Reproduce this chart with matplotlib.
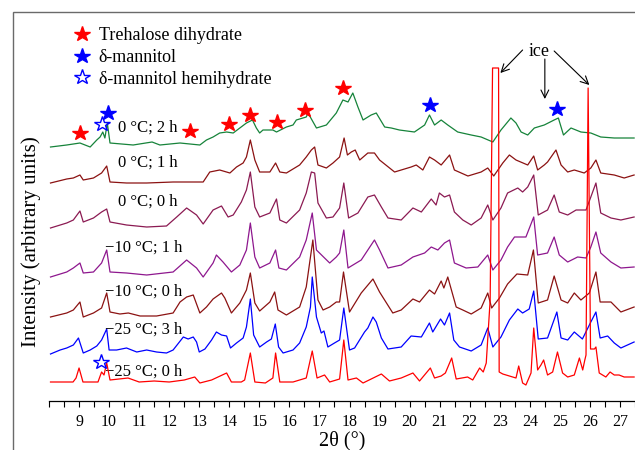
import numpy as np
import matplotlib
matplotlib.use('Agg')
import matplotlib.pyplot as plt
from matplotlib.lines import Line2D
from matplotlib.patches import Rectangle

plt.rcParams['font.family'] = ['Liberation Serif', 'DejaVu Serif']

# stacked XRD patterns, 2theta (deg) and intensity (arbitrary, offset already applied)
tt_m25_0h = [8.05, 8.80, 8.90, 9.00, 9.13, 9.63, 9.75, 9.83, 9.92, 10.03, 10.63, 11.0, 11.5, 12.0, 12.5,
             12.85, 13.02, 13.41, 13.91, 14.07, 14.4, 14.51, 14.70, 14.85, 15.2, 15.45, 15.54, 15.68,
             16.12, 16.56, 16.76, 16.92, 17.17, 17.34, 17.67, 17.81, 17.95, 18.23, 18.45, 19.06, 19.33,
             19.72, 20.11, 20.33, 20.69, 20.83, 21.05, 21.19, 21.40, 21.55, 21.93, 22.10, 22.33, 22.45,
             22.55, 22.68, 22.76, 22.96, 22.98, 23.10, 23.54, 23.63, 23.76, 23.87, 24.04, 24.13, 24.26,
             24.37, 24.46, 24.59, 24.76, 24.92, 25.09, 25.26, 25.48, 25.65, 25.76, 25.83, 25.87, 25.94,
             26.02, 26.15, 26.20, 26.31, 26.53, 26.67, 26.81, 26.97, 27.14, 27.47]
i_m25_0h = [18, 18, 22, 32, 18, 18, 28, 25, 37, 20, 22, 18, 19, 18, 20,
            23, 17, 20, 27, 18, 18, 20, 47, 18, 17, 22, 47, 18,
            18, 22, 49, 22, 25, 18, 21, 60, 20, 22, 17, 26, 19,
            22, 27, 19, 32, 22, 24, 27, 42, 21, 23, 20, 32, 28,
            37, 100, 332, 332, 28, 26, 22, 34, 17, 15, 27, 72, 30,
            35, 40, 25, 28, 48, 27, 23, 25, 42, 30, 40, 45, 312,
            51, 51, 53, 27, 23, 28, 25, 25, 23, 23]

tt_m25_3h = [8.05, 8.37, 8.59, 8.81, 8.98, 9.14, 9.37, 9.59, 9.75, 9.92, 10.0, 10.25, 10.58, 10.92, 11.25,
             11.58, 11.91, 12.13, 12.47, 12.63, 12.80, 12.91, 13.0, 13.19, 13.41, 13.57, 13.74, 13.91,
             14.04, 14.24, 14.46, 14.57, 14.70, 14.81, 15.01, 15.24, 15.40, 15.53, 15.64, 15.79, 16.12,
             16.34, 16.56, 16.70, 16.76, 16.90, 17.06, 17.15, 17.28, 17.50, 17.67, 17.81, 18.0, 18.17,
             18.50, 18.61, 18.78, 18.89, 19.06, 19.28, 19.72, 20.05, 20.39, 20.66, 20.77, 21.03, 21.16,
             21.33, 21.47, 21.66, 22.05, 22.38, 22.60, 22.77, 23.04, 23.32, 23.60, 23.76, 23.98, 24.13,
             24.28, 24.59, 24.90, 25.04, 25.26, 25.48, 25.75, 26.03, 26.20, 26.34, 26.59, 26.81, 27.03,
             27.25, 27.47]
i_m25_3h = [46, 50, 52, 55, 62, 47, 50, 54, 60, 71, 50, 50, 52, 48, 50,
            48, 47, 50, 63, 61, 63, 58, 48, 51, 60, 68, 65, 64,
            52, 57, 62, 73, 101, 65, 53, 58, 61, 76, 53, 47, 50,
            57, 73, 93, 123, 83, 67, 69, 53, 57, 60, 92, 50, 52,
            68, 72, 83, 78, 62, 51, 53, 64, 63, 77, 68, 81, 75,
            87, 60, 53, 49, 55, 72, 53, 63, 80, 91, 87, 91, 109,
            61, 62, 88, 62, 60, 68, 61, 78, 88, 62, 64, 57, 52,
            55, 58]

tt_m10_0h = [8.05, 8.59, 8.81, 9.03, 9.14, 9.48, 9.75, 9.92, 10.03, 10.36, 10.64, 11.03, 11.58, 12.13, 12.36,
             12.58, 12.80, 13.02, 13.24, 13.46, 13.74, 13.85, 14.07, 14.35, 14.57, 14.70, 14.85, 15.01,
             15.35, 15.51, 15.62, 15.90, 16.34, 16.56, 16.78, 16.95, 17.12, 17.34, 17.56, 17.67, 17.80,
             18.0, 18.39, 18.78, 19.0, 19.44, 19.72, 20.11, 20.33, 20.66, 20.83, 21.05, 21.14, 21.27,
             21.55, 21.77, 22.05, 22.38, 22.60, 22.73, 22.99, 23.26, 23.57, 23.93, 24.12, 24.28, 24.59,
             24.81, 25.04, 25.26, 25.48, 25.70, 25.98, 26.20, 26.34, 26.70, 27.03, 27.47]
i_m10_0h = [83, 87, 90, 98, 83, 87, 92, 107, 88, 86, 87, 84, 84, 87, 98,
            103, 105, 87, 93, 101, 107, 102, 87, 97, 110, 127, 97, 89,
            98, 108, 90, 85, 93, 113, 160, 100, 90, 93, 98, 98, 128,
            88, 107, 121, 108, 87, 90, 101, 98, 110, 106, 119, 112, 123,
            93, 90, 86, 92, 107, 92, 102, 116, 126, 125, 150, 97, 100,
            124, 100, 97, 107, 100, 107, 128, 98, 98, 88, 93]

tt_m10_1h = [8.05, 8.59, 8.81, 9.03, 9.14, 9.48, 9.75, 9.92, 10.03, 10.58, 11.25, 12.13, 12.58, 12.91, 13.13,
             13.46, 13.57, 13.79, 14.07, 14.35, 14.57, 14.70, 14.85, 15.01, 15.35, 15.54, 15.65, 15.90,
             16.34, 16.56, 16.76, 16.90, 17.17, 17.34, 17.56, 17.67, 17.81, 17.95, 18.39, 18.61, 18.83,
             19.0, 19.28, 19.72, 20.11, 20.50, 20.72, 20.94, 21.16, 21.33, 21.49, 21.88, 22.27, 22.60,
             22.77, 23.04, 23.26, 23.49, 23.87, 24.13, 24.26, 24.59, 24.81, 24.98, 25.26, 25.59, 25.87,
             26.03, 26.20, 26.36, 26.70, 27.03, 27.47]
i_m10_1h = [123, 128, 132, 137, 127, 128, 137, 150, 128, 127, 125, 128, 140, 132, 123,
            137, 145, 138, 128, 135, 150, 177, 143, 132, 137, 150, 132, 130,
            143, 160, 187, 150, 142, 137, 143, 147, 170, 132, 140, 150, 160,
            150, 132, 135, 143, 147, 153, 150, 157, 160, 137, 132, 133, 145,
            130, 140, 153, 163, 163, 183, 145, 147, 163, 145, 138, 143, 142,
            153, 168, 147, 138, 132, 133]

tt_0_0h = [8.05, 8.59, 8.81, 9.03, 9.14, 9.48, 9.75, 9.92, 10.03, 10.58, 11.25, 11.91, 12.25, 12.58, 12.91,
           13.13, 13.46, 13.74, 13.96, 14.13, 14.40, 14.57, 14.70, 14.85, 15.01, 15.35, 15.57, 15.68,
           15.90, 16.34, 16.56, 16.73, 16.84, 16.95, 17.23, 17.45, 17.67, 17.81, 17.97, 18.28, 18.61,
           18.83, 19.06, 19.28, 19.72, 20.11, 20.39, 20.72, 20.88, 20.99, 21.16, 21.33, 21.49, 21.77,
           22.05, 22.38, 22.60, 22.77, 23.04, 23.26, 23.60, 23.76, 23.93, 24.13, 24.28, 24.59, 24.81,
           24.98, 25.26, 25.54, 25.87, 26.03, 26.20, 26.36, 26.70, 27.03, 27.47]
i_0_0h = [172, 177, 180, 189, 178, 182, 188, 191, 178, 175, 173, 174, 183, 192, 185,
          176, 190, 194, 183, 185, 198, 210, 228, 193, 183, 187, 201, 180,
          177, 190, 207, 228, 227, 197, 182, 183, 192, 217, 182, 187, 203,
          205, 193, 182, 180, 192, 188, 201, 195, 207, 203, 205, 188, 180,
          175, 182, 195, 180, 192, 207, 212, 208, 213, 225, 185, 190, 205,
          188, 185, 190, 190, 203, 217, 187, 182, 180, 183]

tt_0_1h = [8.05, 8.59, 8.81, 9.03, 9.14, 9.48, 9.75, 9.92, 10.03, 10.58, 11.25, 12.13, 13.13, 13.35, 13.68,
           14.02, 14.24, 14.46, 14.57, 14.70, 14.85, 15.01, 15.35, 15.54, 15.68, 15.90, 16.34, 16.56,
           16.73, 16.84, 16.95, 17.23, 17.45, 17.67, 17.82, 17.93, 18.06, 18.19, 18.34, 18.61, 18.83,
           19.0, 19.50, 20.05, 20.22, 20.44, 20.66, 20.83, 21.05, 21.33, 21.49, 21.94, 22.38, 22.60,
           22.80, 23.10, 23.32, 23.54, 23.93, 24.13, 24.26, 24.48, 24.59, 24.87, 25.04, 25.26, 25.48,
           25.81, 26.03, 26.20, 26.36, 26.81, 27.14, 27.47]
i_0_1h = [217, 221, 222, 225, 220, 222, 227, 234, 218, 217, 217, 218, 218, 228, 230,
          227, 233, 237, 243, 260, 240, 228, 228, 237, 228, 227, 235, 243,
          250, 253, 235, 232, 237, 243, 262, 245, 248, 250, 240, 247, 247,
          240, 228, 233, 235, 230, 243, 240, 235, 245, 230, 224, 228, 232,
          224, 237, 245, 240, 235, 244, 230, 235, 238, 250, 235, 228, 230,
          227, 232, 240, 227, 225, 222, 225]

tt_0_2h = [8.05, 8.59, 9.03, 9.37, 9.59, 9.70, 9.79, 9.86, 9.94, 10.03, 10.80, 11.43, 11.69, 12.36, 13.02,
           13.24, 13.46, 13.68, 13.91, 14.13, 14.57, 14.77, 14.90, 15.01, 15.12, 15.45, 15.57, 15.90,
           16.12, 16.23, 16.56, 16.62, 16.90, 17.23, 17.56, 17.78, 17.95, 18.11, 18.28, 18.45, 18.72,
           18.89, 19.17, 19.39, 19.66, 20.16, 20.50, 20.66, 20.83, 21.05, 21.27, 21.60, 22.05, 22.38,
           22.77, 23.04, 23.37, 23.54, 23.71, 23.93, 24.15, 24.48, 24.81, 24.95, 25.12, 25.37, 25.70,
           26.03, 26.36, 26.81, 27.47]
i_0_2h = [253, 255, 257, 253, 260, 263, 268, 262, 277, 257, 255, 258, 255, 257, 255,
          260, 263, 267, 268, 267, 277, 280, 272, 267, 270, 270, 268, 273,
          275, 280, 283, 287, 272, 275, 287, 300, 298, 307, 293, 280, 285,
          287, 273, 272, 270, 268, 275, 285, 275, 280, 275, 268, 265, 263,
          258, 270, 282, 277, 268, 265, 272, 275, 280, 282, 265, 272, 268,
          267, 263, 262, 262]

traces = [
    (tt_0_2h, i_0_2h, '#16833a', '0 °C; 2 h', 10.31, 272),
    (tt_0_1h, i_0_1h, '#8b1212', '0 °C; 1 h', 10.31, 237),
    (tt_0_0h, i_0_0h, '#8b1a52', '0 °C; 0 h', 10.31, 198),
    (tt_m10_1h, i_m10_1h, '#8e178e', '\u221210 °C; 1 h', 9.86, 152),
    (tt_m10_0h, i_m10_0h, '#8b1212', '\u221210 °C; 0 h', 9.86, 108),
    (tt_m25_3h, i_m25_3h, '#0000ff', '\u221225 °C; 3 h', 9.86, 70),
    (tt_m25_0h, i_m25_0h, '#ff0000', '\u221225 °C; 0 h', 9.86, 28),
]

# phase markers
trehalose_x = [9.03, 12.69, 13.99, 14.68, 15.60, 16.51, 17.78]
trehalose_y = [267, 269, 276, 285, 278, 290, 312]
mannitol_x = [9.97, 20.69, 24.92]
mannitol_y = [287, 295, 291]
hemi_x = [9.75, 9.72]
hemi_y = [276, 38]

fig = plt.figure(figsize=(6.35, 4.5), dpi=100)
W, H = 635, 450
ax = fig.add_axes([49 / W, (H - 401) / H, (W - 49) / W, (401 - 12) / H])

for tt, ii, col, lab, lx, ly in traces:
    z = 5 if col == '#ff0000' else 3
    ax.plot(tt, ii, color=col, lw=0.9, zorder=z)
    ax.text(lx, ly, lab, fontsize=12, ha='left', va='center', zorder=4)

ax.plot(trehalose_x, trehalose_y, ls='none', marker='*', ms=11.5, color='red', mec='red', zorder=6)
ax.plot(mannitol_x, mannitol_y, ls='none', marker='*', ms=11.5, color='blue', mec='blue', zorder=6)
ax.plot(hemi_x, hemi_y, ls='none', marker='*', ms=11.5, mfc='none', mec='blue', mew=1.0, zorder=6)

handles = [Line2D([], [], ls='none', marker='*', ms=11.5, color='red'),
           Line2D([], [], ls='none', marker='*', ms=11.5, color='blue'),
           Line2D([], [], ls='none', marker='*', ms=11.5, mfc='none', mec='blue', mew=1.0)]
ax.legend(handles, ['Trehalose dihydrate', '\u03b4-mannitol', '\u03b4-mannitol hemihydrate'],
          loc='upper left', bbox_to_anchor=(0.02, 0.994), frameon=False, fontsize=13,
          handlelength=1.0, handletextpad=0.4, labelspacing=0.27, borderaxespad=0.3)

# ice peaks
ax.text(24.32, 349, 'ice', fontsize=13, ha='center', va='center')
arr = dict(arrowstyle='->', color='black', lw=0.8, shrinkA=0, shrinkB=0, mutation_scale=14)
ax.annotate('', xy=(23.02, 327), xytext=(23.76, 350), arrowprops=arr)
ax.annotate('', xy=(24.50, 301), xytext=(24.50, 341), arrowprops=arr)
ax.annotate('', xy=(25.98, 315), xytext=(24.81, 349), arrowprops=arr)

ax.set_xlim(8.0, 27.47)
ax.set_ylim(-1, 388)
ax.set_xticks(np.arange(9, 28, 1))
ax.set_xticks(np.arange(8, 27.6, 0.5), minor=True)
ax.tick_params(axis='x', which='both', direction='out', length=4, width=0.8, labelsize=11.5, pad=5)
ax.set_yticks([])
for s in ['left', 'right', 'top']:
    ax.spines[s].set_visible(False)
ax.spines['bottom'].set_linewidth(0.9)
ax.patch.set_alpha(0)

ax.set_xlabel('2\u03b8 (°)', fontsize=14.5, labelpad=1)
fig.text(31 / W, 1 - 242 / H, 'Intensity (arbitrary units)', fontsize=15, rotation=90,
         ha='center', va='center')

fig.add_artist(Rectangle((13 / W, -0.1), 1.0, 1.1 - 12 / H, transform=fig.transFigure,
                         fill=False, edgecolor='#6a6a6a', lw=1.0))

fig.savefig('out.png', dpi=100)
